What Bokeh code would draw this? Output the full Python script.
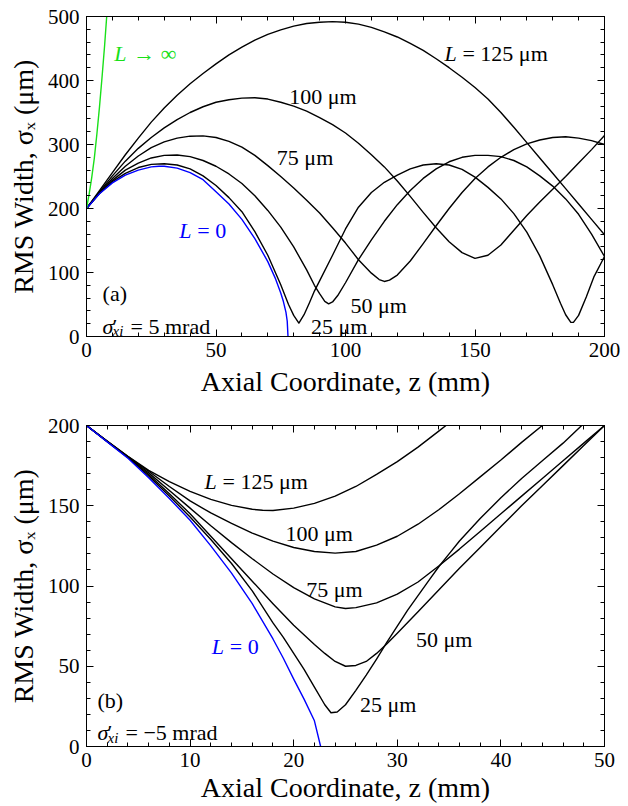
from bokeh.plotting import figure
from bokeh.models import Range1d, LinearAxis, Label, FixedTicker, ColumnDataSource, CustomLabelingPolicy
from bokeh.layouts import column
from bokeh.embed import file_html
from bokeh.resources import INLINE

FONT = "Liberation Serif"

# ---------------- data: panel (a), sigma'_xi = +5 mrad ----------------
a_z_inf = [0, 1, 2, 3, 4, 5, 6, 7, 7.8]
a_s_inf = [200, 222, 248, 278, 316, 358, 405, 455, 500]

a_z_L0 = [0, 5, 10, 15, 20, 25, 28, 30, 35, 40, 45, 50, 55, 60, 65, 70, 73, 75, 76, 77, 77.5, 77.8]
a_s_L0 = [200, 223, 240, 252, 260, 265, 266, 266, 263, 256, 245, 226, 207, 183, 153, 117, 90, 68, 55, 38, 24, 0]

a_z_L25 = [0, 5, 10, 15, 20, 25, 30, 35, 40, 45, 50, 55, 60, 65, 70, 75, 78, 80, 82, 84, 86, 88, 90, 95,
           100, 105, 110, 115, 120, 125, 130, 135, 140, 145, 150, 155, 160, 165, 170, 175, 180, 183, 185,
           187, 188, 190, 193, 196, 200]
a_s_L25 = [200, 223.5, 242, 255, 264, 269, 270, 268, 262, 251, 236, 217, 195, 164, 127, 81, 50, 33, 21, 34,
           52, 71, 87, 127, 168, 202, 225, 241, 252, 262, 268, 270, 268, 261, 249, 233, 215, 192, 163, 126,
           81, 52, 34, 22, 22, 33, 62, 94, 125]

a_z_L50 = [0, 5, 10, 15, 20, 25, 30, 35, 40, 45, 50, 55, 60, 65, 70, 75, 80, 85, 88, 90, 92, 93.5, 95, 97,
           100, 105, 110, 115, 120, 125, 130, 135, 140, 145, 150, 155, 160, 165, 170, 175, 180, 185, 190,
           195, 200]
a_s_L50 = [200, 224, 244, 260, 271, 279, 283, 283.5, 281, 275, 266, 254, 239, 220, 197, 171, 140, 104, 80,
           67, 55, 51, 54, 64, 84, 120, 151, 180, 206, 228, 247, 262, 273, 280, 283, 283, 281, 275, 265,
           251, 235, 215, 191, 160, 125]

a_z_L75 = [0, 5, 10, 15, 20, 25, 30, 35, 40, 45, 50, 55, 60, 65, 70, 75, 80, 85, 90, 95, 100, 105, 110,
           113, 115, 117, 120, 125, 130, 135, 140, 145, 150, 155, 160, 165, 170, 175, 180, 185, 190, 195, 200]
a_s_L75 = [200, 225, 247, 266, 282, 295, 304, 310, 313, 313.5, 311, 305, 296, 283, 267, 250, 232, 213, 193,
           170, 146, 120, 99, 89, 86, 88, 96, 118, 145, 173, 200, 225, 247, 265, 280, 292, 301, 307, 311,
           312, 310, 306, 300]

a_z_L100 = [0, 5, 10, 15, 20, 25, 30, 35, 40, 45, 50, 55, 60, 65, 70, 75, 80, 85, 90, 95, 100, 105, 110,
            115, 120, 125, 130, 135, 140, 145, 150, 155, 160, 165, 170, 175, 180, 185, 190, 195, 200]
a_s_L100 = [200, 226, 251, 274, 294, 311, 326, 339, 350, 359, 366, 370, 372.5, 373, 371, 366, 360, 352, 342,
            331, 318, 302, 284, 265, 243, 219, 194, 170, 148, 131, 122, 127, 143, 166, 189, 210, 230, 250,
            271, 292, 314]

a_z_L125 = [0, 5, 10, 15, 20, 25, 30, 35, 40, 45, 50, 55, 60, 65, 70, 75, 80, 85, 90, 95, 100, 105, 110,
            115, 120, 125, 130, 135, 140, 145, 150, 155, 160, 165, 170, 175, 180, 185, 190, 195, 200]
a_s_L125 = [200, 228, 256, 284, 310, 335, 357, 377, 395, 411, 426, 440, 452, 463, 472, 479, 485, 489, 491,
            492, 491, 488, 483, 476, 468, 458, 447, 434, 420, 405, 389, 371, 350, 327, 303, 279, 255, 231,
            207, 183, 159]

# ---------------- data: panel (b), sigma'_xi = -5 mrad ----------------
b_z_L0 = [0, 2, 4, 6, 8, 10, 12, 14, 16, 18, 19, 20, 21, 22, 22.6]
b_s_L0 = [200, 189.8, 179.6, 167.5, 154.5, 141, 125, 108, 89, 67, 55, 42, 29.5, 16, 0]

b_z_L25 = [0, 2, 4, 6, 8, 10, 12, 14, 16, 18, 19, 20, 21, 22, 23, 23.6, 24.2, 25, 26, 27, 28, 29, 30, 31,
           32, 33, 34, 35, 36, 37, 38, 40, 42, 44, 46, 47.8]
b_s_L25 = [200, 189.9, 180, 168.5, 156, 143, 129, 114, 97, 77, 68, 58, 48, 37, 26, 21, 21.5, 26, 35, 44.5,
           54.5, 65, 75, 85, 94, 103, 112, 120, 128, 135, 142, 155, 167, 178, 189, 200]

b_z_L50 = [0, 2, 4, 6, 8, 10, 12, 14, 16, 18, 20, 22, 23, 24, 25, 26, 27, 28, 29, 30, 32, 34, 36, 38, 40,
           42, 44, 46, 48, 50]
b_s_L50 = [200, 190, 180.2, 169.5, 157.5, 145, 131, 117, 103, 89, 75.5, 63.5, 58, 53, 50, 50.5, 53, 58, 64,
           70.5, 84, 97.5, 111, 124, 137, 150, 162.5, 175, 187.5, 200]

b_z_L75 = [0, 2, 4, 6, 8, 10, 12, 14, 16, 18, 20, 22, 24, 25, 26, 28, 30, 32, 34, 36, 38, 40, 42, 44, 46,
           48, 50]
b_s_L75 = [200, 190.1, 180.4, 170.5, 159.5, 148.5, 137.5, 127, 117, 107.5, 99, 92, 87, 86, 86.5, 89.5, 95,
           102.5, 112.5, 123, 134, 145, 156, 167, 178, 189, 200]

b_z_L100 = [0, 2, 4, 6, 8, 10, 12, 14, 16, 18, 20, 22, 24, 26, 28, 30, 32, 34, 36, 38, 40, 42, 44]
b_s_L100 = [200, 190.2, 180.6, 171.5, 162, 153, 145.5, 139, 133, 128, 124, 121.5, 120.5, 121.5, 125.5, 131,
            138.5, 147.5, 157.5, 168, 178.5, 189.5, 200]

b_z_L125 = [0, 2, 4, 6, 8, 10, 12, 14, 16, 17, 18, 20, 22, 24, 26, 28, 30, 32, 34, 34.7]
b_s_L125 = [200, 190.3, 180.8, 172, 165, 159, 154, 150.2, 147.8, 147.2, 147, 148.5, 151.5, 156, 162, 169.5,
            177.5, 186.5, 196.5, 200]

# ticks
a_xticks = [0, 50, 100, 150, 200]
a_xminor = list(range(0, 201, 10))
a_yticks = [0, 100, 200, 300, 400, 500]
a_yminor = list(range(0, 501, 20))
b_xticks = [0, 10, 20, 30, 40, 50]
b_xminor = list(range(0, 51, 2))
b_yticks = [0, 50, 100, 150, 200]
b_yminor = list(range(0, 201, 10))

BLACK = "#000000"
BLUE = "#0000ff"
GREEN = "#19e019"
LW = 1.4
LBL = "22px"


def setup_axis(ax, ticks, minor, show_labels):
    ax.ticker = FixedTicker(ticks=ticks, minor_ticks=minor)
    ax.axis_line_color = BLACK
    ax.axis_line_width = 1
    ax.major_tick_in = 7
    ax.major_tick_out = 0
    ax.minor_tick_in = 4
    ax.minor_tick_out = 0
    ax.major_tick_line_color = BLACK
    ax.minor_tick_line_color = BLACK
    ax.major_label_text_font = FONT
    ax.major_label_text_color = BLACK
    ax.major_label_text_font_size = "21px"
    if not show_labels:
        ax.major_label_text_font_size = "1px"
        ax.major_label_standoff = 0
        ax.major_label_policy = CustomLabelingPolicy(code="return []")


def make_fig(height, mb_top, mb_bottom, xr, yr, xt, xm, yt, ym, xlab_standoff):
    p = figure(width=628, height=height, x_range=Range1d(*xr), y_range=Range1d(*yr),
               output_backend="svg", toolbar_location=None,
               min_border_left=86, min_border_right=24,
               min_border_top=mb_top, min_border_bottom=mb_bottom)
    p.xgrid.visible = False
    p.ygrid.visible = False
    p.outline_line_color = BLACK
    p.outline_line_width = 1
    p.outline_line_alpha = 1
    p.background_fill_color = "white"
    p.border_fill_color = "white"
    for ax in p.xaxis:
        setup_axis(ax, xt, xm, True)
        ax.major_label_standoff = 6
        ax.axis_label = "Axial Coordinate, z (mm)"
        ax.axis_label_standoff = xlab_standoff
    for ax in p.yaxis:
        setup_axis(ax, yt, ym, True)
        ax.major_label_standoff = 7
        ax.axis_label = "RMS Width, σₓ (μm)"
        ax.axis_label_standoff = 6
    for ax in list(p.xaxis) + list(p.yaxis):
        ax.axis_label_text_font = FONT
        ax.axis_label_text_font_style = "normal"
        ax.axis_label_text_font_size = "28px"
        ax.axis_label_text_color = BLACK
    top = LinearAxis()
    setup_axis(top, xt, xm, False)
    p.add_layout(top, "above")
    right = LinearAxis()
    setup_axis(right, yt, ym, False)
    p.add_layout(right, "right")
    return p


def label(p, x, y, text, dx=0, dy=0, color=BLACK, size=LBL, style="normal"):
    p.add_layout(Label(x=x, y=y, x_offset=dx, y_offset=dy, text=text, text_font=FONT,
                       text_font_size=size, text_font_style=style, text_color=color,
                       text_align="left", text_baseline="alphabetic"))


def line(p, z, s, color):
    src = ColumnDataSource(dict(z=z, s=s))
    p.line("z", "s", source=src, line_color=color, line_width=LW, line_join="round")


def sigma_label(p, x, y, rest):
    label(p, x, y, "σ", style="italic")
    label(p, x, y, "′", dx=10)
    label(p, x, y, "xi", dx=10, dy=-5, size="15px", style="italic")
    label(p, x, y, rest, dx=28)


# ---------------- panel (a) ----------------
p1 = make_fig(410, 16, 74, (0, 200), (0, 500), a_xticks, a_xminor, a_yticks, a_yminor, 6)
for z, s in [(a_z_L25, a_s_L25), (a_z_L50, a_s_L50), (a_z_L75, a_s_L75),
             (a_z_L100, a_s_L100), (a_z_L125, a_s_L125)]:
    line(p1, z, s, BLACK)
line(p1, a_z_L0, a_s_L0, BLUE)
line(p1, a_z_inf, a_s_inf, GREEN)

label(p1, 10.7, 442.8, "L", color=GREEN, style="italic")
label(p1, 10.7, 442.8, "→ ∞", dx=19, color=GREEN)
label(p1, 138.2, 442.8, "L", style="italic")
label(p1, 138.2, 442.8, "= 125 μm", dx=18)
label(p1, 78.3, 375.2, "100 μm")
label(p1, 73.5, 279.6, "75 μm")
label(p1, 35.8, 165.0, "L", color=BLUE, style="italic")
label(p1, 35.8, 165.0, "= 0", dx=18, color=BLUE)
label(p1, 101.9, 49.1, "50 μm")
label(p1, 86.7, 16.4, "25 μm")
label(p1, 6.2, 67.4, "(a)")
sigma_label(p1, 6.2, 16.4, "= 5 mrad")

# ---------------- panel (b) ----------------
p2 = make_fig(396, 15, 60, (0, 50), (0, 200), b_xticks, b_xminor, b_yticks, b_yminor, 2)
for z, s in [(b_z_L25, b_s_L25), (b_z_L50, b_s_L50), (b_z_L75, b_s_L75),
             (b_z_L100, b_s_L100), (b_z_L125, b_s_L125)]:
    line(p2, z, s, BLACK)
line(p2, b_z_L0, b_s_L0, BLUE)

label(p2, 11.4, 165.0, "L", style="italic")
label(p2, 11.4, 165.0, "= 125 μm", dx=18)
label(p2, 19.2, 132.8, "100 μm")
label(p2, 21.2, 97.6, "75 μm")
label(p2, 31.8, 66.5, "50 μm")
label(p2, 26.4, 26.3, "25 μm")
label(p2, 12.1, 62.4, "L", color=BLUE, style="italic")
label(p2, 12.1, 62.4, "= 0", dx=18, color=BLUE)
label(p2, 1.06, 28.8, "(b)")
sigma_label(p2, 1.06, 8.5, "= −5 mrad")

layout = column(p1, p2, spacing=0)
open("out.html", "w").write(file_html(layout, INLINE))
